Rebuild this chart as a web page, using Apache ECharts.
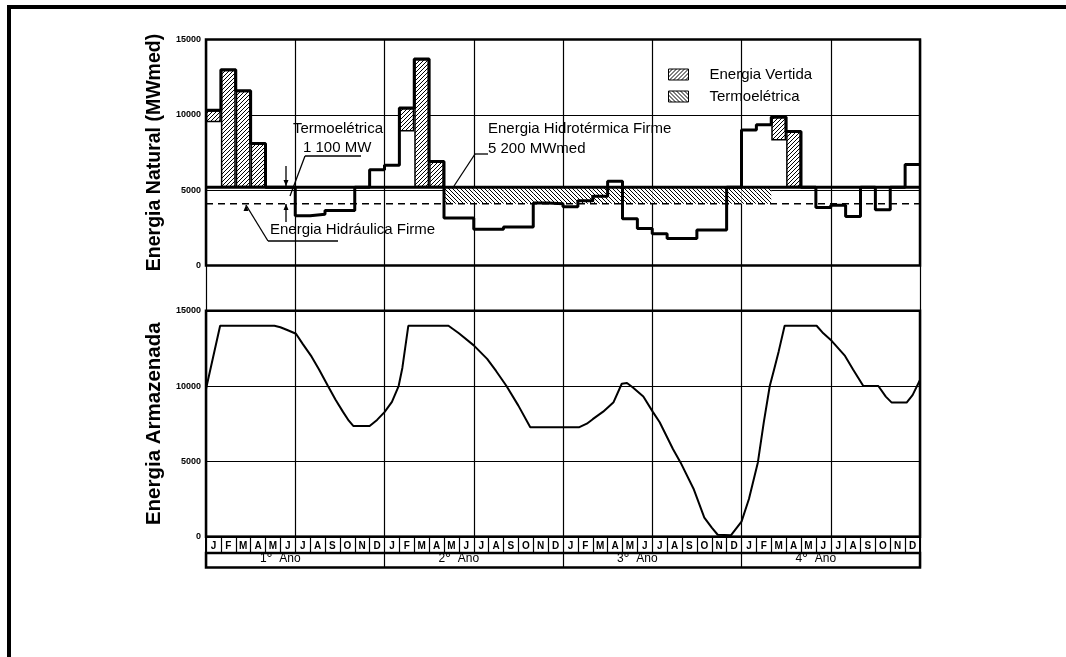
<!DOCTYPE html>
<html>
<head>
<meta charset="utf-8">
<script src="https://cdn.jsdelivr.net/npm/echarts@6/dist/echarts.min.js"></script>
<style>
  html, body { margin: 0; padding: 0; background: #fff; }
  #chart { width: 1066px; height: 657px; }
</style>
</head>
<body>
<div id="chart"></div>
<script>
// ---- data -------------------------------------------------------------
const monthLetters = ['J','F','M','A','M','J','J','A','S','O','N','D'];
const months = [].concat(monthLetters, monthLetters, monthLetters, monthLetters);
const years = ['1', '2', '3', '4'];
const yTicks = { min: 0, max: 15000, step: 5000 };

// monthly natural inflow energy (MWmed), 4 years
const naturalEnergy = [
  10300, 13000, 11600, 8100, 5200, 5200, 3300, 3400, 3650, 3650, 5200, 6350,
  6650, 10450, 13700, 6900, 3150, 3150, 2400, 2400, 2550, 2550, 4150, 4100,
  3900, 4300, 4600, 5600, 3100, 2450, 2100, 1800, 1800, 2350, 2350, 5200,
  9000, 9350, 9850, 8900, 5200, 3850, 4000, 3250, 5200, 3700, 5200, 6700
];

// spilled energy: lower and upper limit of the hatched block per month
const spillLow = {
  0: 9500, 1: 5200, 2: 5200, 3: 5200,
  13: 8900, 14: 5200, 15: 5200,
  38: 8300, 39: 5200
};
const spillHigh = {
  0: 10300, 1: 13000, 2: 11600, 3: 8100,
  13: 10450, 14: 13700, 15: 6900,
  38: 9850, 39: 8900
};

// firm energy levels
const firmHydrothermal = 5200;   // Energia Hidrotérmica Firme
const thermalCapacity = 1100;    // Termoelétrica
const firmHydraulic = firmHydrothermal - thermalCapacity;
const thermalFirstMonth = 16;
const thermalLastMonth = 37;

// stored energy, [month position, MWmed]
const storage = [
  [0, 9800], [0.95, 14000], [4.6, 14000], [5.0, 13900], [5.5, 13700], [6.05, 13470],
  [6.5, 12800], [7.1, 11950], [7.6, 11100], [8.2, 10000], [8.7, 9100], [9.2, 8300],
  [9.6, 7700], [9.9, 7350], [11.0, 7350], [11.5, 7750], [12.0, 8270], [12.5, 8950],
  [12.95, 10000], [13.2, 11200], [13.6, 14000], [16.3, 14000], [17.0, 13500],
  [18.0, 12700], [18.9, 11800], [19.5, 11000], [20.2, 10000], [21.0, 8700],
  [21.8, 7270], [25.1, 7270], [25.6, 7500], [26.0, 7800], [26.7, 8300], [27.4, 8930],
  [27.95, 10150], [28.3, 10200], [28.7, 9900], [29.4, 9300], [30.05, 8270],
  [30.5, 7600], [31.4, 5800], [31.9, 4930], [32.8, 3130], [33.5, 1270], [34.0, 600],
  [34.4, 130], [35.3, 100], [36.0, 1000], [36.5, 2500], [37.1, 4930], [37.5, 7600],
  [37.9, 10000], [38.2, 11130], [38.5, 12300], [38.9, 14000], [41.05, 14000],
  [41.5, 13500], [42.06, 13000], [42.96, 12000], [43.5, 11100], [44.19, 10000],
  [45.2, 10000], [45.7, 9300], [46.1, 8900], [47.1, 8900], [47.5, 9400], [48, 10400]
];

// ---- derived series --------------------------------------------------------
const spillBase = months.map((_, i) => (i in spillLow ? spillLow[i] : '-'));
const spillBand = months.map((_, i) => (i in spillHigh ? spillHigh[i] - spillLow[i] : '-'));
const thermalBase = months.map((_, i) =>
  (i >= thermalFirstMonth && i <= thermalLastMonth ? firmHydraulic : '-'));
const thermalBand = months.map((_, i) =>
  (i >= thermalFirstMonth && i <= thermalLastMonth ? thermalCapacity : '-'));
const naturalSteps = naturalEnergy.map((v, i) => [i, v])
  .concat([[naturalEnergy.length, naturalEnergy[naturalEnergy.length - 1]]]);

// ---- hatch fills -------------------------------------------------------------
function hatch(rising) {
  const n = 4;
  const c = document.createElement('canvas');
  c.width = n; c.height = n;
  const g = c.getContext('2d');
  g.fillStyle = '#fff';
  g.fillRect(0, 0, n, n);
  g.fillStyle = '#000';
  for (let i = 0; i < n; i++) {
    g.fillRect(i, rising ? n - 1 - i : i, 1, 1);
  }
  return { image: c, repeat: 'repeat' };
}
const spillFill = hatch(true);
const thermalFill = hatch(false);

// ---- layout ------------------------------------------------------------------
const L = 206, W = 714;
const FONT = 'Liberation Sans, Arial, sans-serif';
const frameLine = { color: '#000', width: 1.2 };

function valueY(gridIndex, name, nameSize) {
  return {
    gridIndex, type: 'value', min: yTicks.min, max: yTicks.max, interval: yTicks.step,
    axisLine: { show: false }, axisTick: { show: false },
    axisLabel: { color: '#000', fontSize: 9, fontWeight: 'bold', fontFamily: FONT, margin: 5, formatter: v => String(v) },
    splitLine: { show: true, lineStyle: frameLine },
    name, nameLocation: 'middle', nameRotate: 90, nameGap: 38,
    nameTextStyle: { color: '#000', fontSize: nameSize, fontWeight: 'bold', fontFamily: FONT }
  };
}
function hiddenValueX(gridIndex, split) {
  return {
    gridIndex, type: 'value', min: 0, max: months.length, interval: 6,
    axisLine: { show: false }, axisTick: { show: false }, axisLabel: { show: false },
    splitLine: { show: !!split, lineStyle: frameLine }
  };
}
function hiddenY(gridIndex) {
  return { gridIndex, type: 'value', min: 0, max: 1, show: false };
}

const chart = echarts.init(document.getElementById('chart'), null, { renderer: 'canvas' });

const arrowDown = (x, y) => ({ type: 'polygon', shape: { points: [[x - 2.5, y - 6], [x + 2.5, y - 6], [x, y]] }, style: { fill: '#000' } });
const arrowUp = (x, y) => ({ type: 'polygon', shape: { points: [[x - 2.5, y + 6], [x + 2.5, y + 6], [x, y]] }, style: { fill: '#000' } });
const seg = (x1, y1, x2, y2, w) => ({ type: 'line', shape: { x1, y1, x2, y2 }, style: { stroke: '#000', lineWidth: w || 1.3 } });
const label = (x, y, text) => ({ type: 'text', x, y, style: { text, font: '15px ' + FONT, fill: '#000', verticalAlign: 'middle' } });

chart.setOption({
  animation: false,
  backgroundColor: '#fff',
  grid: [
    { left: L, top: 39.5, width: W, height: 226, show: true, borderColor: '#000', borderWidth: 2.5, backgroundColor: 'transparent' },
    { left: L, top: 310.7, width: W, height: 226, show: true, borderColor: '#000', borderWidth: 2.5, backgroundColor: 'transparent' },
    { left: L, top: 39.5, width: W, height: 497.2 },
    { left: L, top: 536.7, width: W, height: 16.3, show: true, borderColor: '#000', borderWidth: 2, backgroundColor: 'transparent' },
    { left: L, top: 553, width: W, height: 14.5, show: true, borderColor: '#000', borderWidth: 2.5, backgroundColor: 'transparent' }
  ],
  xAxis: [
    { gridIndex: 0, type: 'category', data: months, show: false, boundaryGap: true },
    hiddenValueX(0, false),
    hiddenValueX(1, false),
    hiddenValueX(2, true),
    {
      gridIndex: 3, type: 'category', data: months, boundaryGap: true,
      axisLine: { show: false }, axisTick: { show: false },
      axisLabel: { inside: true, interval: 0, margin: 2, color: '#000', fontSize: 10, fontWeight: 'bold', fontFamily: FONT },
      splitLine: { show: true, interval: 0, lineStyle: frameLine }
    },
    {
      gridIndex: 4, type: 'category', data: years, boundaryGap: true,
      axisLine: { show: false }, axisTick: { show: false },
      axisLabel: {
        inside: true, interval: 0, margin: 1, padding: [0, 30, 0, 0],
        formatter: v => '{n|' + v + '}{d|°} {n| Ano}',
        rich: {
          n: { fontSize: 12, fontFamily: FONT, color: '#000' },
          d: { fontSize: 15, fontFamily: FONT, color: '#000' }
        }
      },
      splitLine: { show: true, interval: 0, lineStyle: frameLine }
    }
  ],
  yAxis: [
    valueY(0, 'Energia Natural (MWmed)', 19.5),
    valueY(1, 'Energia Armazenada', 20.5),
    hiddenY(2), hiddenY(3), hiddenY(4)
  ],
  legend: {
    orient: 'vertical', left: 663, top: 62, itemWidth: 20, itemHeight: 11, itemGap: 7,
    selectedMode: false, icon: 'rect',
    data: ['Energia Vertida', 'Termoelétrica'],
    itemStyle: { borderColor: '#000', borderWidth: 1 },
    textStyle: { color: '#000', fontSize: 15, fontFamily: FONT, padding: [0, 0, 0, 16] }
  },
  series: [
    {
      type: 'bar', xAxisIndex: 0, yAxisIndex: 0, stack: 'spill', data: spillBase,
      barWidth: '100%', barGap: '-100%', silent: true, itemStyle: { color: 'rgba(0,0,0,0)' }, z: 2
    },
    {
      type: 'bar', name: 'Energia Vertida', xAxisIndex: 0, yAxisIndex: 0, stack: 'spill', data: spillBand,
      barWidth: '100%', barGap: '-100%', itemStyle: { color: spillFill, borderColor: '#000', borderWidth: 1.5 }, z: 2
    },
    {
      type: 'bar', xAxisIndex: 0, yAxisIndex: 0, stack: 'thermal', data: thermalBase,
      barWidth: '100%', barGap: '-100%', silent: true, itemStyle: { color: 'rgba(0,0,0,0)' }, z: 2
    },
    {
      type: 'bar', name: 'Termoelétrica', xAxisIndex: 0, yAxisIndex: 0, stack: 'thermal', data: thermalBand,
      barWidth: '100%', barGap: '-100%', itemStyle: { color: thermalFill, borderWidth: 0 }, z: 2
    },
    {
      type: 'line', xAxisIndex: 1, yAxisIndex: 0, symbol: 'none', z: 4,
      data: [[0, firmHydraulic], [months.length, firmHydraulic]],
      lineStyle: { color: '#000', width: 1.5, type: [7, 5] }
    },
    {
      type: 'line', xAxisIndex: 1, yAxisIndex: 0, symbol: 'none', z: 4,
      data: [[0, firmHydrothermal], [months.length, firmHydrothermal]],
      lineStyle: { color: '#000', width: 3 }
    },
    {
      type: 'line', xAxisIndex: 1, yAxisIndex: 0, symbol: 'none', step: 'end', z: 5,
      data: naturalSteps, lineStyle: { color: '#000', width: 3 }
    },
    {
      type: 'line', xAxisIndex: 2, yAxisIndex: 1, symbol: 'none', z: 5,
      data: storage, lineStyle: { color: '#000', width: 2 }
    }
  ],
  graphic: [
    { type: 'rect', shape: { x: 7, y: 5, width: 1059, height: 4 }, style: { fill: '#000' } },
    { type: 'rect', shape: { x: 7, y: 5, width: 4, height: 652 }, style: { fill: '#000' } },
    // thermal capacity callout
    label(293, 129, 'Termoelétrica'),
    label(303, 148, '1 100 MW'),
    seg(305, 156, 361, 156),
    seg(305, 156, 290, 196),
    seg(286, 166, 286, 186), arrowDown(286, 186),
    seg(286, 204, 286, 222), arrowUp(286, 204),
    // firm hydraulic energy callout
    label(270, 230, 'Energia Hidráulica Firme'),
    seg(246, 205, 268, 241), arrowUp(246, 205),
    seg(268, 241, 338, 241),
    // firm hydrothermal energy callout
    label(488, 129, 'Energia Hidrotérmica Firme'),
    label(488, 149, '5 200 MWmed'),
    seg(475, 154, 488, 154),
    seg(475, 154, 454, 186)
  ]
});
</script>
</body>
</html>
